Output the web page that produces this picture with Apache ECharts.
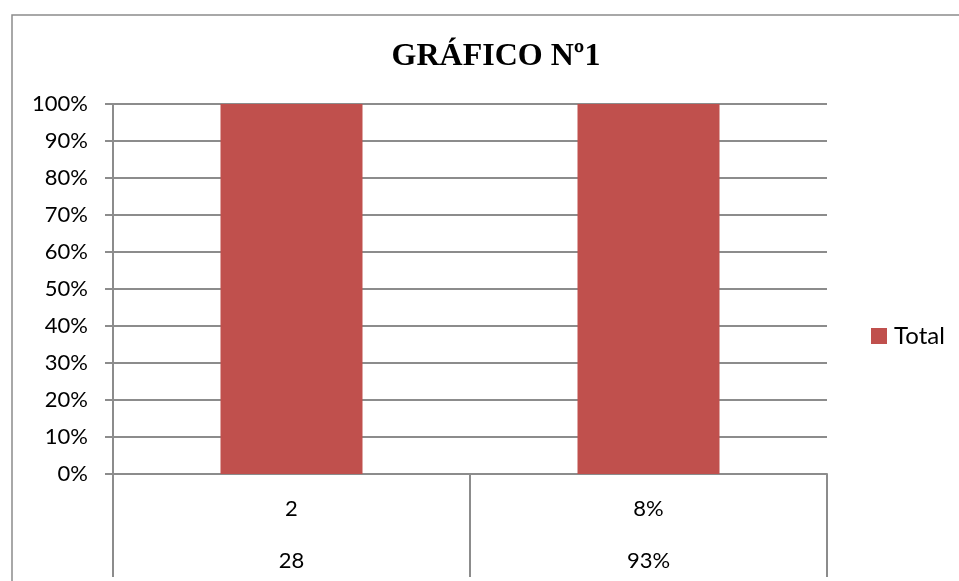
<!DOCTYPE html>
<html><head><meta charset="utf-8">
<script src="https://cdn.jsdelivr.net/npm/echarts@6/dist/echarts.min.js"></script>
<style>html,body{margin:0;padding:0;background:#fff;overflow:hidden}#c{width:959px;height:581px}</style>
</head><body><div id="c"></div>
<script>
const titleText = 'GRÁFICO Nº1';
const level1 = ['2', '8%'];
const level2 = ['28', '93%'];
const totalValues = [1, 1];
const seriesName = 'Total';

const chart = echarts.init(document.getElementById('c'));
chart.setOption({
  animation: false,
  backgroundColor: '#fff',
  title: {
    text: titleText, left: 491, top: 36, textAlign: 'center',
    textStyle: { fontFamily: 'Liberation Serif', fontWeight: 'bold', fontSize: 32, color: '#000' }
  },
  graphic: [{
    type: 'rect', shape: { x: 12, y: 15, width: 1000, height: 700 },
    style: { fill: 'none', stroke: '#8c8c8c', lineWidth: 1.5 }, silent: true, z: -1
  }],
  legend: {
    data: [seriesName], orient: 'vertical', left: 866, top: 319,
    itemWidth: 16, itemHeight: 16, itemGap: 6,
    textStyle: { fontFamily: 'Lato', fontSize: 24, color: '#000', padding: [0, 0, 0, 2] },
    icon: 'rect'
  },
  grid: { left: 113, top: 104, width: 714, height: 370, containLabel: false, outerBoundsMode: 'none' },
  xAxis: {
    type: 'category',
    data: level1.map((v, i) => v + '\n' + level2[i]),
    axisLine: { lineStyle: { color: '#8c8c8c', width: 2 } },
    axisTick: { show: true, alignWithLabel: false, interval: 0, length: 103, lineStyle: { color: '#8c8c8c', width: 2 } },
    axisLabel: { interval: 0, margin: 9, lineHeight: 52, fontFamily: 'Lato', fontSize: 22, color: '#000' }
  },
  yAxis: {
    type: 'value', min: 0, max: 1, interval: 0.1,
    axisLine: { show: true, lineStyle: { color: '#8c8c8c', width: 2 } },
    axisTick: { show: true, length: 8, lineStyle: { color: '#8c8c8c', width: 2 } },
    splitLine: { lineStyle: { color: '#8c8c8c', width: 2 } },
    axisLabel: { margin: 25, fontFamily: 'Lato', fontSize: 22, color: '#000',
      formatter: v => Math.round(v * 100) + '%' }
  },
  series: [{
    name: seriesName, type: 'bar', data: totalValues, barWidth: 142,
    itemStyle: { color: '#C0504D' }
  }]
});
</script></body></html>
